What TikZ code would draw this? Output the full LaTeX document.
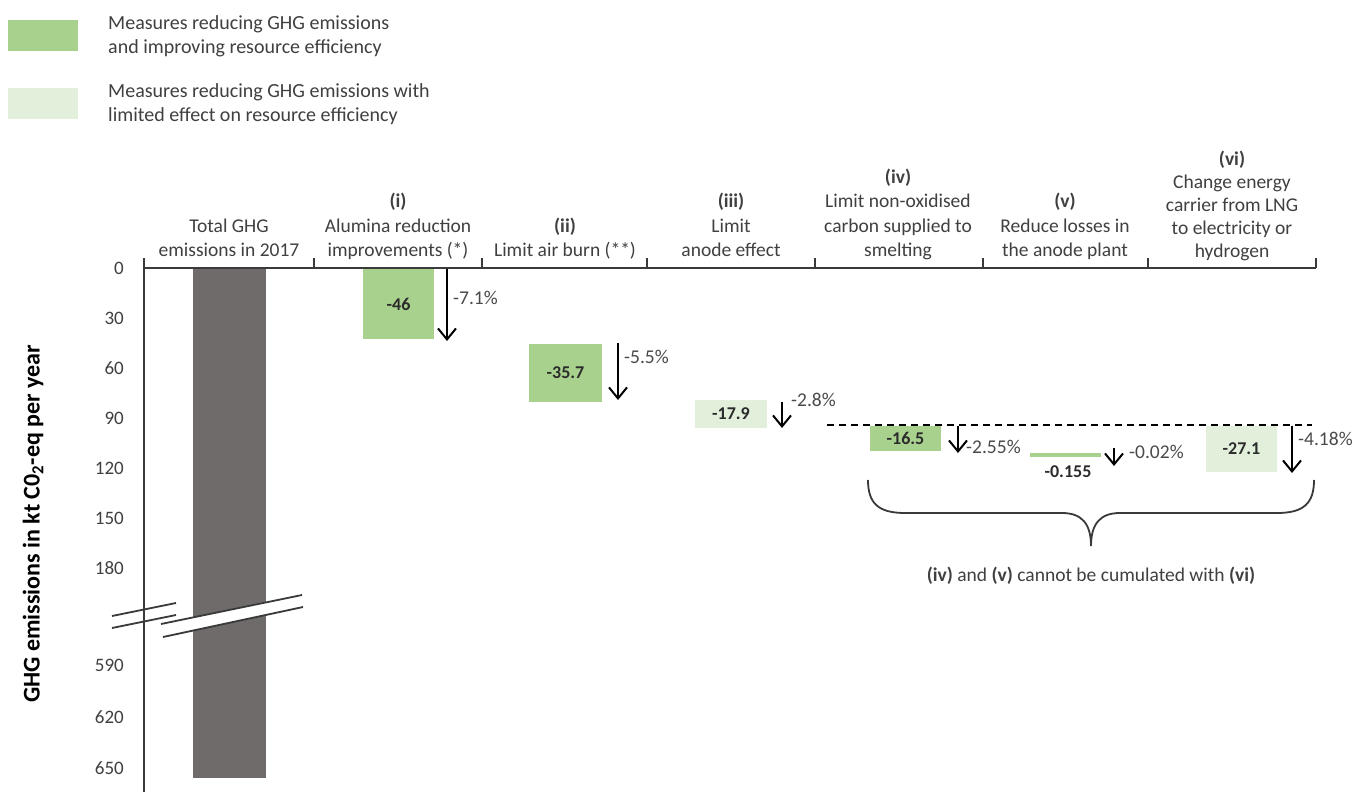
\documentclass[tikz,border=0pt]{standalone}
\usepackage{fontspec}
\setmainfont{Carlito}
\usetikzlibrary{arrows.meta}
\definecolor{dkgreen}{HTML}{A9D18E}
\definecolor{ltgreen}{HTML}{E2EFDA}
\definecolor{barg}{HTML}{6F6B6B}
\definecolor{txt}{HTML}{404040}
\definecolor{valc}{HTML}{2B2B2B}
\definecolor{pctc}{HTML}{4A4A4A}
\definecolor{axc}{HTML}{3A3A3A}
\begin{document}
\begin{tikzpicture}[x=1pt,y=-1pt,
  hdr/.style={font=\fontsize{19.5}{24.5}\selectfont, text=txt, align=center, inner sep=0pt, text depth=0pt, anchor=south},
  hdrsix/.style={font=\fontsize{19.5}{23}\selectfont, text=txt, align=center, inner sep=0pt, text depth=0pt, anchor=south},
  ticklbl/.style={font=\fontsize{19}{22}\selectfont, text=txt, anchor=east, inner sep=0pt},
  val/.style={font={\bfseries\fontsize{18}{20}\selectfont}, text=valc, inner sep=0pt},
  pct/.style={font=\fontsize{19.5}{22}\selectfont, text=pctc, anchor=west, inner sep=0pt},
  barnode/.style={val, outer sep=0pt},
  axisline/.style={draw=axc, line width=2pt},
  drop/.style={draw=black, line width=2pt, -{Straight Barb[length=11pt,width=18pt,line width=2pt]}},
  legtext/.style={font=\fontsize{20}{24}\selectfont, text=txt, align=left, inner sep=0pt, text depth=0pt, anchor=south west},
  breakline/.style={draw=axc, line width=1.8pt},
]
\useasboundingbox[fill=white] (0,0) rectangle (1354,792);

% legend
\node[fill=dkgreen, minimum width=70pt, minimum height=31pt, inner sep=0pt, anchor=north west] (lg1) at (8,20) {};
\node[fill=ltgreen, minimum width=70pt, minimum height=31pt, inner sep=0pt, anchor=north west] (lg2) at (8,88) {};
\node[legtext] (lt1) at (108,54) {Measures reducing GHG emissions\\and improving resource efficiency};
\node[legtext] (lt2) at (108,122) {Measures reducing GHG emissions with\\limited effect on resource efficiency};

% total bar
\fill[barg] (193,268) rectangle (266,778);

% axes
\draw[axisline] (144,258) -- (144,792);
\draw[axisline] (144,268) -- (1316,268);
\foreach \x in {314,482,647,815,983,1148,1316}
  \draw[axisline] (\x,268) -- (\x,258);

% y tick labels
\foreach \v/\y in {0/268,30/318,60/368,90/418,120/468,150/518,180/568,590/665,620/717,650/768}
  \node[ticklbl] at (124,\y) {\v};

% axis title
\node[font={\bfseries\fontsize{24}{26}\selectfont}, text=black, rotate=90, inner sep=0pt] (ytitle) at (33,524) {GHG emissions in kt C0\textsubscript{2}-eq per year};

% break marks
\fill[white] (161,624) -- (302,595) -- (303,607) -- (163,637) -- cycle;
\draw[breakline] (112,616) -- (176,603);
\draw[breakline] (112,628) -- (176,615);
\draw[breakline] (161,624) -- (302,595);
\draw[breakline] (163,637) -- (303,607);

% headers
\node[hdr] (h0) at (229,257) {Total GHG\\emissions in 2017};
\node[hdr] (h1) at (398,257) {\textbf{(i)}\\Alumina reduction\\improvements (*)};
\node[hdr] (h2) at (565,257) {\textbf{(ii)}\\Limit air burn (**)};
\node[hdr] (h3) at (731,257) {\textbf{(iii)}\\Limit\\anode effect};
\node[hdr] (h4) at (898,257) {\textbf{(iv)}\\Limit non-oxidised\\carbon supplied to\\smelting};
\node[hdr] (h5) at (1065,257) {\textbf{(v)}\\Reduce losses in\\the anode plant};
\node[hdrsix] (h6) at (1232,258) {\textbf{(vi)}\\Change energy\\carrier from LNG\\to electricity or\\hydrogen};

% measure bars
\node[barnode, fill=dkgreen, minimum width=71pt, minimum height=70pt] (b1) at (398.5,304) {-46};
\node[barnode, fill=dkgreen, minimum width=73pt, minimum height=58pt] (b2) at (565.5,373) {-35.7};
\node[barnode, fill=ltgreen, minimum width=72pt, minimum height=28pt] (b3) at (731,414) {-17.9};
\node[barnode, fill=dkgreen, minimum width=71pt, minimum height=25pt] (b4) at (905.5,438.5) {-16.5};
\node[fill=dkgreen, minimum width=71pt, minimum height=4pt, inner sep=0pt] (b5) at (1065.5,455) {};
\node[val] (b5v) at (1068,472) {-0.155};
\node[barnode, fill=ltgreen, minimum width=71pt, minimum height=46pt] (b6) at (1241.5,449) {-27.1};

% drop arrows
\coordinate (a1s) at (447,269);  \coordinate (a1e) at (447,341);
\coordinate (a2s) at (618,343);  \coordinate (a2e) at (618,400);
\coordinate (a3s) at (782,402);  \coordinate (a3e) at (782,428);
\coordinate (a4s) at (958,426);  \coordinate (a4e) at (958,453);
\coordinate (a5s) at (1114,448); \coordinate (a5e) at (1114,466);
\coordinate (a6s) at (1292,426); \coordinate (a6e) at (1292,473);
\draw[drop] (a1s) -- (a1e);
\draw[drop] (a2s) -- (a2e);
\draw[drop] (a3s) -- (a3e);
\draw[drop] (a4s) -- (a4e);
\draw[drop] (a5s) -- (a5e);
\draw[drop] (a6s) -- (a6e);

% percentages
\node[pct] (p1) at (453,298) {-7.1\%};
\node[pct] (p2) at (624,357) {-5.5\%};
\node[pct] (p3) at (791,400) {-2.8\%};
\node[pct] (p4) at (966,447) {-2.55\%};
\node[pct] (p5) at (1129,452) {-0.02\%};
\node[pct] (p6) at (1298,439) {-4.18\%};

% dashed reference line
\coordinate (d1) at (827,425); \coordinate (d2) at (1312,425);
\draw[black, line width=2pt, dash pattern=on 7pt off 5pt] (d1) -- (d2);

% brace
\coordinate (brL) at (868,480); \coordinate (brR) at (1314,480); \coordinate (brT) at (1091,546);
\draw[axc, line width=1.8pt] (brL) .. controls (868,503) and (878,513) .. (905,513) -- (1062,513)
  .. controls (1082,513) and (1091,524) .. (brT)
  .. controls (1091,524) and (1100,513) .. (1120,513) -- (1277,513)
  .. controls (1304,513) and (1314,503) .. (brR);
\node[font=\fontsize{19.5}{22}\selectfont, text=txt, inner sep=0pt] (cap) at (1091,576) {\textbf{(iv)} and \textbf{(v)} cannot be cumulated with \textbf{(vi)}};
\end{tikzpicture}
\end{document}
